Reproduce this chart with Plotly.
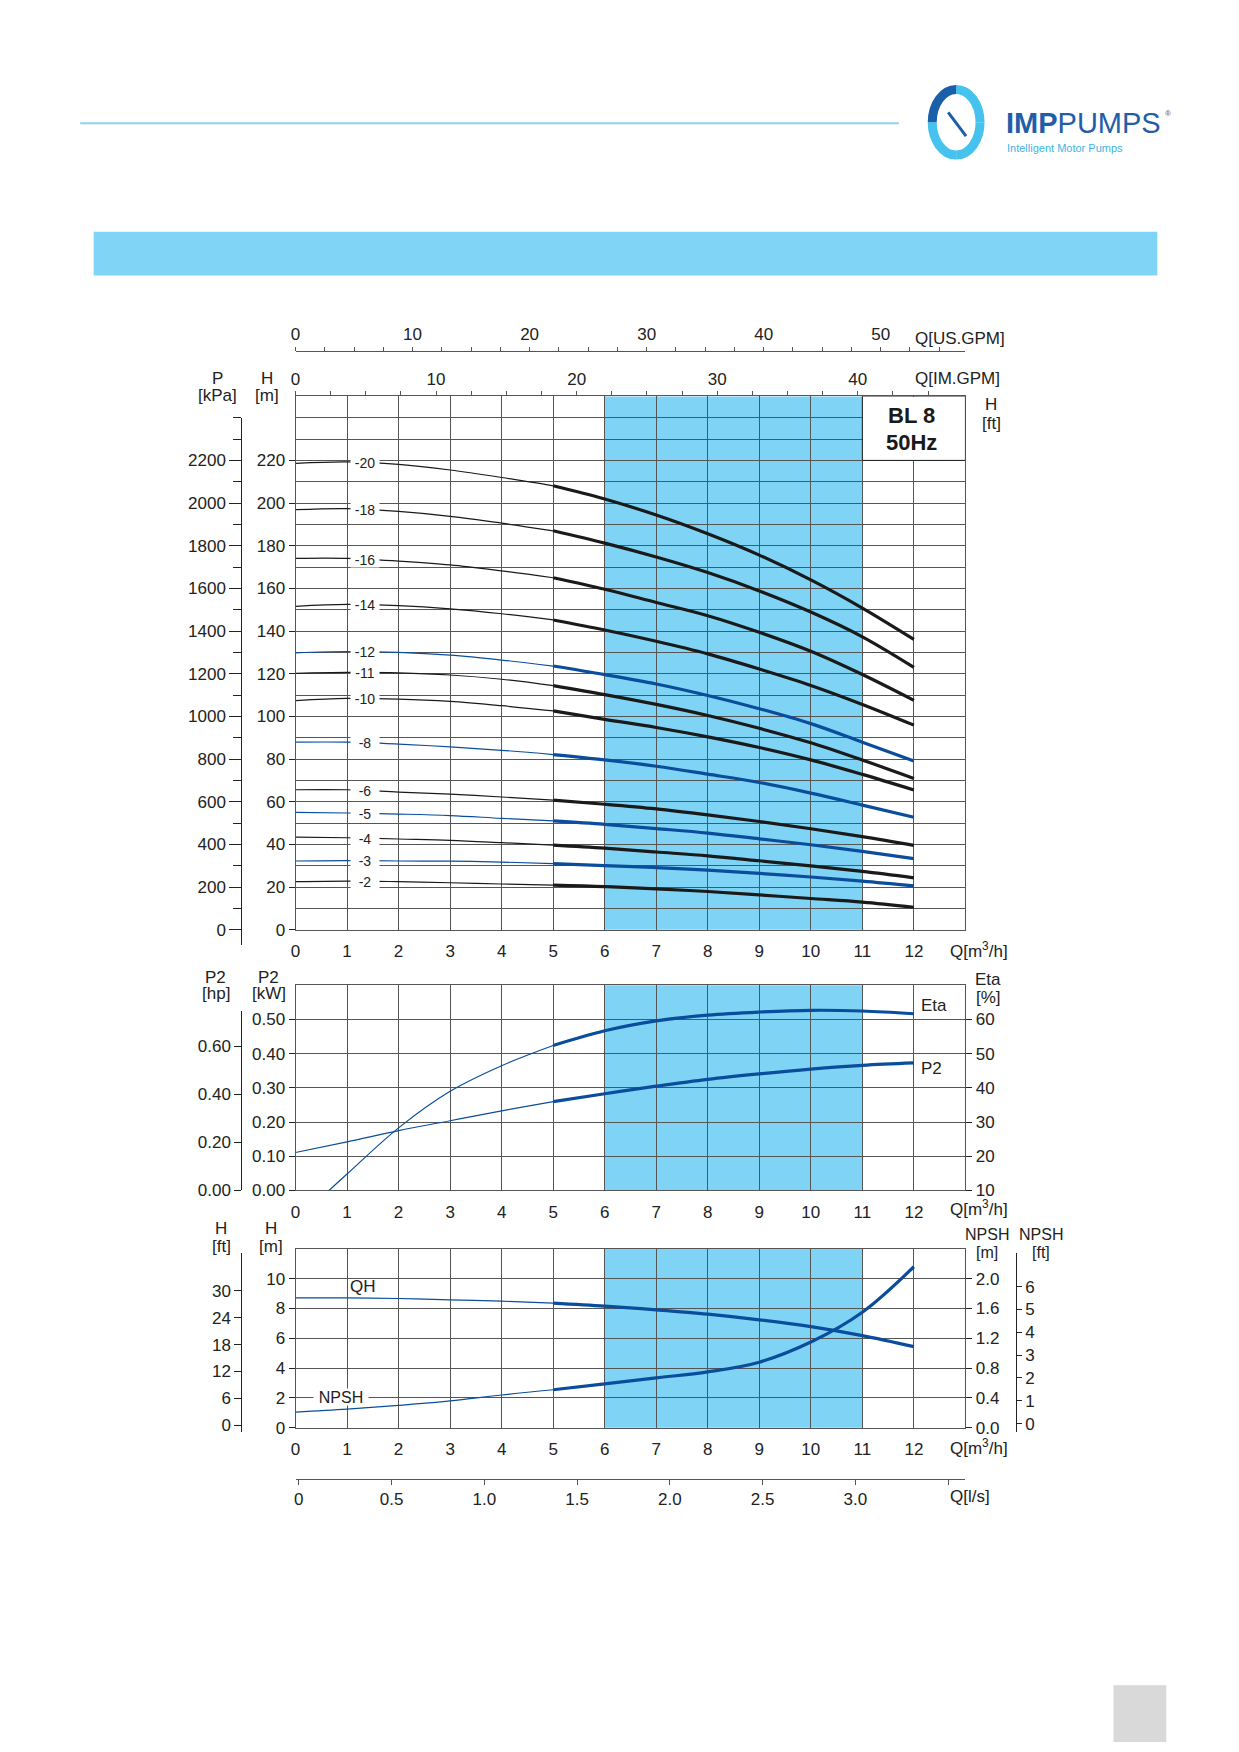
import numpy as np
import plotly.graph_objects as go

# flow points in m3/h
q = [0, 1, 2, 3, 4, 5, 6, 7, 8, 9, 10, 11, 12]

# head curves (m) per stage count
h_20 = [218.6, 219.3, 218.1, 215.5, 212.0, 208.1, 201.9, 194.4, 185.6, 175.6, 164.0, 150.8, 136.1]
h_18 = [196.9, 197.4, 196.1, 193.8, 190.6, 187.0, 181.2, 174.7, 167.4, 158.8, 148.9, 137.3, 123.0]
h_16 = [174.1, 174.1, 172.8, 171.0, 168.2, 165.0, 159.6, 153.4, 147.2, 139.4, 130.5, 119.6, 107.5]
h_14 = [151.6, 152.5, 151.9, 150.4, 148.1, 145.2, 140.5, 135.2, 129.3, 122.2, 114.5, 105.6, 95.9]
h_12 = [129.8, 130.4, 130.0, 128.7, 126.4, 123.6, 119.6, 115.2, 109.8, 103.6, 96.6, 87.9, 79.1]
h_11 = [120.2, 120.6, 120.4, 119.4, 117.4, 114.4, 110.2, 105.6, 100.4, 94.4, 87.6, 79.5, 70.9]
h_10 = [107.4, 108.4, 108.1, 107.0, 105.0, 102.6, 98.6, 94.8, 90.4, 85.4, 79.6, 72.8, 65.5]
h_8 = [87.9, 87.9, 87.0, 85.7, 84.1, 82.1, 79.6, 76.6, 72.9, 69.0, 64.0, 58.4, 52.7]
h_6 = [65.6, 65.6, 64.5, 63.5, 62.2, 60.7, 58.8, 56.6, 53.8, 50.7, 47.3, 43.6, 39.5]
h_5 = [55.0, 54.7, 54.2, 53.5, 52.2, 51.0, 49.4, 47.4, 45.3, 42.6, 39.8, 36.7, 33.3]
h_4 = [43.4, 43.1, 42.5, 41.9, 40.8, 39.6, 38.2, 36.4, 34.6, 32.3, 29.9, 27.3, 24.3]
h_3 = [32.2, 32.4, 32.2, 32.1, 31.7, 31.0, 30.0, 29.1, 27.9, 26.4, 24.7, 22.8, 20.5]
h_2 = [22.5, 22.8, 22.5, 22.0, 21.4, 20.9, 20.2, 19.1, 17.9, 16.3, 14.6, 12.9, 10.5]

stages = ['-20', '-18', '-16', '-14', '-12', '-11', '-10', '-8', '-6', '-5', '-4', '-3', '-2']
heads = [h_20, h_18, h_16, h_14, h_12, h_11, h_10, h_8, h_6, h_5, h_4, h_3, h_2]
blue_stages = ['-12', '-8', '-5', '-3']

# power and efficiency
p2_kw = [0.111, 0.142, 0.175, 0.204, 0.233, 0.260, 0.283, 0.305, 0.325, 0.341, 0.355, 0.366, 0.373]
eta_q = [0.65, 1, 2, 3, 4, 5, 6, 7, 8, 9, 10, 11, 12]
eta_pct = [10.0, 14.8, 28.3, 39.0, 46.5, 52.4, 56.7, 59.6, 61.3, 62.2, 62.7, 62.5, 61.7]

# single stage head and NPSH (m)
qh_m = [8.71, 8.71, 8.67, 8.58, 8.49, 8.36, 8.16, 7.91, 7.62, 7.24, 6.78, 6.18, 5.44]
npsh_m = [0.21, 0.25, 0.30, 0.36, 0.44, 0.51, 0.59, 0.67, 0.75, 0.88, 1.15, 1.55, 2.16]

best_range = [6, 11]

M_TO_FT = 3.2808
M3H_TO_USGPM = 4.4029
M3H_TO_IMGPM = 3.6662
M3H_PER_LS = 3.6

W, HT = 1239, 1752
L, R = 291.7, 964.3
MAIN = (398.7, 935.0)
MID = (991.0, 1197.3)
BOT = (1256.0, 1436.0)

BLACK = '#1a1a1a'
BLUE = '#0a4d9c'
BAND = '#7fd3f5'
GRID = '#555555'
TXT = '#222222'
FONT = 'Liberation Sans, Arial, sans-serif'
FS = 17


def px(x):
    return x / W


def py(y):
    return 1 - y / HT


def ydom(top, bot):
    return [py(bot), py(top)]


fig = go.Figure()


def add_curve(x, y, xa, ya, color):
    # thin part up to 5 m3/h, heavy part beyond
    i = x.index(5)
    fig.add_trace(go.Scatter(x=x[:i + 1], y=y[:i + 1], xaxis=xa, yaxis=ya, mode='lines',
                             line=dict(color=color, width=1.2, shape='spline'),
                             showlegend=False, hoverinfo='skip'))
    fig.add_trace(go.Scatter(x=x[i:], y=y[i:], xaxis=xa, yaxis=ya, mode='lines',
                             line=dict(color=color, width=3.2, shape='spline'),
                             showlegend=False, hoverinfo='skip'))


for name, h in zip(stages, heads):
    col = BLUE if name in blue_stages else BLACK
    add_curve(q, h, 'x', 'y', col)
    fig.add_annotation(x=1.34, y=float(np.interp(1.34, q, h)), xref='x', yref='y', text=name,
                       showarrow=False, bgcolor='white', width=28, height=15, borderpad=0,
                       font=dict(size=14, color=TXT))

add_curve(q, p2_kw, 'x2', 'y2', BLUE)
add_curve(eta_q, eta_pct, 'x2', 'y5', BLUE)
add_curve(q, qh_m, 'x3', 'y3', BLUE)
add_curve(q, npsh_m, 'x3', 'y6', BLUE)

# empty traces so the extra axes get drawn
for xa, ya in [('x4', 'y'), ('x5', 'y'), ('x6', 'y3'), ('x7', 'y7'), ('x7', 'y8'), ('x7', 'y9'), ('x7', 'y10')]:
    fig.add_trace(go.Scatter(x=[], y=[], xaxis=xa, yaxis=ya, showlegend=False, hoverinfo='skip'))

tfont = dict(size=FS, color=TXT, family=FONT)
xbase = dict(domain=[px(L), px(R)], range=[0, 13], tickvals=q, showgrid=True, gridcolor=GRID,
             gridwidth=1, zeroline=False, showline=True, mirror=True, linecolor=GRID, linewidth=1,
             ticks='outside', ticklen=6, tickcolor='rgba(0,0,0,0)', tickfont=tfont)
ybase = dict(showgrid=True, gridcolor=GRID, gridwidth=1, zeroline=False, showline=True, mirror=True,
             linecolor=GRID, linewidth=1, ticks='outside', ticklen=6, tickcolor=TXT, tickfont=tfont)
yside = dict(showgrid=False, zeroline=False, showline=False, ticks='outside', ticklen=6,
             tickcolor=TXT, tickfont=tfont, side='right')
yfree = dict(showgrid=False, zeroline=False, showline=True, linecolor=TXT, linewidth=1,
             ticks='outside', tickcolor=TXT, tickfont=tfont, anchor='free')

m_px = (MAIN[1] - MAIN[0]) / 250
q_px = (R - L) / 13
ls_px = q_px * M3H_PER_LS
usg = [i * 2.5 for i in range(23)]
img = [i * 2.5 for i in range(19)]
ls_ticks = [0, 0.5, 1.0, 1.5, 2.0, 2.5, 3.0, 3.5]

fig.update_layout(
    width=W, height=HT, autosize=False, margin=dict(l=0, r=0, t=0, b=0),
    paper_bgcolor='white', plot_bgcolor='rgba(0,0,0,0)', font=dict(family=FONT, color=TXT),
    xaxis=dict(xbase, anchor='y'),
    yaxis=dict(ybase, domain=ydom(*MAIN), range=[0, 250], tickvals=list(range(0, 221, 20)), anchor='x',
               minor=dict(tickmode='linear', tick0=0, dtick=10, showgrid=True, gridcolor=GRID,
                          gridwidth=1, ticks='')),
    xaxis2=dict(xbase, anchor='y2'),
    yaxis2=dict(ybase, domain=ydom(*MID), range=[0, 0.6], anchor='x2',
                tickvals=[0, 0.1, 0.2, 0.3, 0.4, 0.5],
                ticktext=['0.00', '0.10', '0.20', '0.30', '0.40', '0.50']),
    xaxis3=dict(xbase, anchor='y3'),
    yaxis3=dict(ybase, domain=ydom(*BOT), range=[0, 12], anchor='x3', tickvals=[0, 2, 4, 6, 8, 10]),
    yaxis4=dict(yside, overlaying='y', anchor='x', range=[0, 250 * M_TO_FT],
                tickvals=list(range(0, 701, 100)),
                ticktext=['0.0'] + [str(v) for v in range(100, 701, 100)]),
    yaxis5=dict(yside, overlaying='y2', anchor='x2', range=[10, 70], tickvals=[10, 20, 30, 40, 50, 60]),
    yaxis6=dict(yside, overlaying='y3', anchor='x3', range=[0, 2.4],
                tickvals=[0, 0.4, 0.8, 1.2, 1.6, 2.0],
                ticktext=['0.0', '0.4', '0.8', '1.2', '1.6', '2.0']),
    xaxis4=dict(overlaying='x', side='top', anchor='free', position=py(353.3),
                range=[0, 13 * M3H_TO_USGPM], tickvals=usg,
                ticktext=[str(int(v)) if v % 10 == 0 else '' for v in usg],
                showgrid=False, zeroline=False, showline=True, linecolor=GRID, ticks='outside',
                ticklen=4, tickcolor=GRID, tickfont=tfont),
    xaxis5=dict(overlaying='x', side='top', anchor='y', range=[0, 13 * M3H_TO_IMGPM], tickvals=img,
                ticktext=[str(int(v)) if v % 10 == 0 else '' for v in img],
                showgrid=False, zeroline=False, showline=False, ticks='outside',
                ticklen=4, tickcolor=GRID, tickfont=tfont),
    xaxis6=dict(overlaying='x3', side='bottom', anchor='free', position=py(1487.3),
                range=[(L - 295) / ls_px, (R - 295) / ls_px], tickvals=ls_ticks,
                ticktext=['0', '0.5', '1.0', '1.5', '2.0', '2.5', '3.0', ''],
                showgrid=False, zeroline=False, showline=True, linecolor=GRID, ticks='outside',
                ticklen=5, tickcolor=GRID, tickfont=tfont),
    xaxis7=dict(visible=False, anchor='free', position=0, domain=[0, 1]),
    yaxis7=dict(yfree, position=px(237.3), domain=ydom(420, 950), side='left',
                range=[(MAIN[1] - 950) / m_px * 10, (MAIN[1] - 420) / m_px * 10],
                tickvals=list(range(0, 2201, 200)), ticklen=12,
                minor=dict(tickmode='linear', tick0=0, dtick=100, ticks='outside', ticklen=8,
                           tickcolor=TXT, showgrid=False)),
    yaxis8=dict(yfree, position=px(237.3), domain=ydom(1016.7, 1197.3), side='left',
                range=[0, 0.747], tickvals=[0, 0.2, 0.4, 0.6],
                ticktext=['0.00', '0.20', '0.40', '0.60'], ticklen=7),
    yaxis9=dict(yfree, position=px(237.3), domain=ydom(1260, 1440), side='left',
                range=[-1.49, 38.5], tickvals=[0, 6, 12, 18, 24, 30], ticklen=7),
    yaxis10=dict(yfree, position=px(1015), domain=ydom(1260, 1440), side='right',
                 range=[-0.36, 7.48], tickvals=[0, 1, 2, 3, 4, 5, 6], ticklen=5),
)

# best efficiency band in every panel
for xa, ya in [('x', 'y'), ('x2', 'y2'), ('x3', 'y3')]:
    fig.add_shape(type='rect', xref=xa, yref=ya + ' domain', x0=best_range[0], x1=best_range[1],
                  y0=0, y1=1, fillcolor=BAND, line_width=0, layer='below')

# model box
fig.add_shape(type='rect', xref='x', yref='y', x0=11, x1=13, y0=220, y1=250,
              fillcolor='white', line=dict(color=BLACK, width=1), layer='above')
fig.add_annotation(x=11.95, y=240.9, xref='x', yref='y', text='<b>BL 8</b>', showarrow=False,
                   font=dict(size=22, color=BLACK))
fig.add_annotation(x=11.95, y=228.4, xref='x', yref='y', text='<b>50Hz</b>', showarrow=False,
                   font=dict(size=22, color=BLACK))


def note(text, x, y, anchor='center', size=FS, **kw):
    fig.add_annotation(text=text, x=px(x), y=py(y), xref='paper', yref='paper', showarrow=False,
                       xanchor=anchor, yanchor='middle', font=dict(size=size, color=TXT), **kw)


note('Q[US.GPM]', 911.7, 340, 'left')
note('Q[IM.GPM]', 911.7, 381, 'left')
for x, y1, y2, a, b in [(213.3, 381, 397.7, 'P', '[kPa]'), (262.7, 381, 397.7, 'H', '[m]'),
                        (990, 407.3, 425.7, 'H', '[ft]'),
                        (211.7, 982.7, 999.3, 'P2', '[hp]'), (265, 982.7, 999.3, 'P2', '[kW]'),
                        (987.3, 985, 1003.3, 'Eta', '[%]'),
                        (217.3, 1236, 1253.3, 'H', '[ft]'), (267.3, 1236, 1253.3, 'H', '[m]'),
                        (985.5, 1241.7, 1260, 'NPSH', '[m]'), (1040, 1241.7, 1260, 'NPSH', '[ft]')]:
    note(a, x, y1, size=16 if a == 'NPSH' else FS)
    note(b, x, y2, size=16 if a == 'NPSH' else FS)
for y in [955, 1215, 1455]:
    note('Q[m<sup>3</sup>/h]', 947, y, 'left')
note('Q[l/s]', 946.7, 1505, 'left')
note('Eta', 918, 1011.7, 'left')
note('P2', 918, 1074.3, 'left')
note('QH', 359, 1294)
note('NPSH', 337.5, 1405, bgcolor='white', width=54, height=16, borderpad=0, size=16)

# page decoration
fig.add_shape(type='line', xref='paper', yref='paper', x0=px(75.5), x1=px(897.5), y0=py(124), y1=py(124),
              line=dict(color='#8cd3ef', width=2))
fig.add_shape(type='rect', xref='paper', yref='paper', x0=px(89), x1=px(1157), y0=py(277), y1=py(233),
              fillcolor='#80d4f6', line_width=0)
fig.add_shape(type='rect', xref='paper', yref='paper', x0=px(1113), x1=px(1166), y0=py(1752), y1=py(1695),
              fillcolor='#d9d9d9', line_width=0)


def pt(x, y):
    return f'{px(x):.5f},{py(y):.5f}'


def arc(points):
    (a, b, c, d) = points
    return f'M {pt(*a)} C {pt(*b)} {pt(*c)} {pt(*d)}'


cx, cy, rx, ry = 955, 123, 24, 33
k = 0.5523
logo = [
    ([(cx, cy - ry), (cx + k * rx, cy - ry), (cx + rx, cy - k * ry), (cx + rx, cy)], '#45c2ee', 9),
    ([(cx + rx, cy), (cx + rx, cy + k * ry), (cx + k * rx, cy + ry), (cx, cy + ry)], '#45c2ee', 9),
    ([(cx - rx, cy), (cx - rx, cy + k * ry), (cx - k * rx, cy + ry), (cx, cy + ry)], '#45c2ee', 9),
    ([(cx, cy - ry), (cx - k * rx, cy - ry), (cx - rx, cy - k * ry), (cx - rx, cy)], '#1c5fa9', 9),
    ([(cx - 8, cy - 10), (cx - 2, cy - 2), (cx + 4, cy + 6), (cx + 10, cy + 14)], '#1c5fa9', 3),
]
for p, c, w in logo:
    fig.add_shape(type='path', xref='paper', yref='paper', path=arc(p), line=dict(color=c, width=w))

fig.add_annotation(text='<b>IMP</b>PUMPS', x=px(1003), y=py(124), xref='paper', yref='paper',
                   showarrow=False, xanchor='left', yanchor='middle',
                   font=dict(size=29, color='#1f5ea8', family=FONT))
fig.add_annotation(text='®', x=px(1173), y=py(108), xref='paper', yref='paper', showarrow=False,
                   font=dict(size=8, color='#1f5ea8'))
fig.add_annotation(text='Intelligent Motor Pumps', x=px(1004), y=py(149), xref='paper', yref='paper',
                   showarrow=False, xanchor='left', yanchor='middle',
                   font=dict(size=11, color='#3bb5e6', family=FONT))

fig.write_html('out.html', config={'displayModeBar': False},
               post_script="document.body.style.margin='0';")
